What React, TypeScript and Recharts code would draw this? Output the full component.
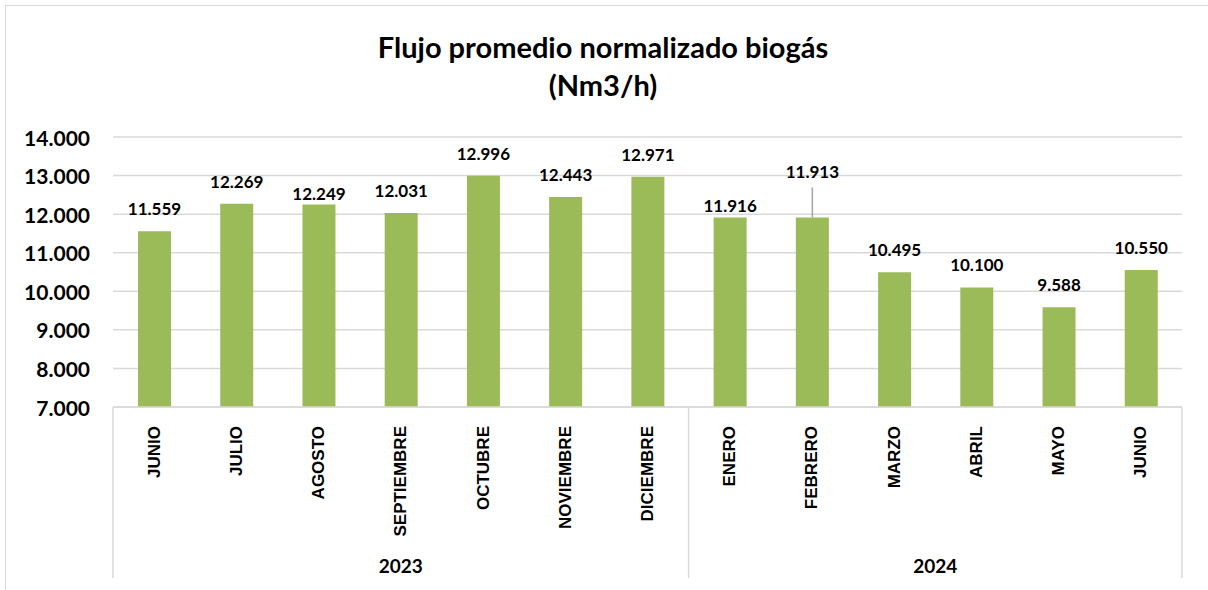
import React from 'react';
import { BarChart, Bar, XAxis, YAxis, CartesianGrid, LabelList } from 'recharts';

const months = ['JUNIO', 'JULIO', 'AGOSTO', 'SEPTIEMBRE', 'OCTUBRE', 'NOVIEMBRE', 'DICIEMBRE', 'ENERO', 'FEBRERO', 'MARZO', 'ABRIL', 'MAYO', 'JUNIO'];
const years = ['2023', '2023', '2023', '2023', '2023', '2023', '2023', '2024', '2024', '2024', '2024', '2024', '2024'];
const flow = [11559, 12269, 12249, 12031, 12996, 12443, 12971, 11916, 11913, 10495, 10100, 9588, 10550];
const yTicks = [7000, 8000, 9000, 10000, 11000, 12000, 13000, 14000];
const titleLines = ['Flujo promedio normalizado biogás', '(Nm3/h)'];

const data = months.map((m, i) => ({ month: m, year: years[i], flow: flow[i] }));

// layout / style
const W = 1208;
const H = 590;
const M_TOP = 137;
const M_RIGHT = 26;
const M_BOTTOM = 183;
const Y_W = 113;
const PLOT_W = W - Y_W - M_RIGHT;
const PLOT_BOTTOM = H - M_BOTTOM;
const BAND = PLOT_W / months.length;
const GRID = '#d9d9d9';
const BAR = '#9bbb59';
const FONT = 'Lato, "Open Sans", sans-serif';
const LABEL_GAP_DEFAULT = 16;
const LABEL_GAP: Record<number, number> = { 2: 5, 7: 5 };
const LEADER: Record<number, number> = { 8: 39 };

const fmt = (v: number) => {
  const s = Math.round(v).toString();
  return s.replace(/\B(?=(\d{3})+(?!\d))/g, '.');
};

const YTick = (props: any) => {
  const { x, y, payload } = props;
  return (
    <text x={x} y={y} textAnchor="end" dominantBaseline="central" fontFamily={FONT} fontWeight={700} fontSize={21} fill="#000">
      {fmt(payload.value)}
    </text>
  );
};

const MonthTick = (props: any) => {
  const { x, payload } = props;
  const i = payload.index as number;
  const top = PLOT_BOTTOM + 19;
  const els: React.ReactNode[] = [];
  els.push(
    <text key="m" x={x} y={top} transform={`rotate(-90 ${x} ${top})`} textAnchor="end" dominantBaseline="central"
      fontFamily='"Liberation Sans", Arial, sans-serif' fontWeight={700} fontSize={17} fill="#000">
      {months[i]}
    </text>
  );
  if (i === 0 || years[i] !== years[i - 1]) {
    let count = 0;
    for (let j = i; j < years.length && years[j] === years[i]; j++) count++;
    const cx = x + ((count - 1) / 2) * BAND;
    els.push(<line key="l" x1={x - BAND / 2} x2={x - BAND / 2} y1={PLOT_BOTTOM} y2={PLOT_BOTTOM + 171} stroke={GRID} strokeWidth={1.5} />);
    els.push(
      <text key="y" x={cx} y={PLOT_BOTTOM + 158} textAnchor="middle" dominantBaseline="central" fontFamily={FONT} fontWeight={700} fontSize={19} fill="#000">
        {years[i]}
      </text>
    );
  }
  if (i === months.length - 1) {
    els.push(<line key="r" x1={x + BAND / 2} x2={x + BAND / 2} y1={PLOT_BOTTOM} y2={PLOT_BOTTOM + 171} stroke={GRID} strokeWidth={1.5} />);
  }
  return <g>{els}</g>;
};

const ValueLabel = (props: any) => {
  const { x, y, width, value, index } = props;
  const cx = x + width / 2;
  if (LEADER[index] !== undefined) {
    const base = y - LEADER[index];
    return (
      <g>
        <line x1={cx} x2={cx} y1={base + 9} y2={y} stroke="#a6a6a6" strokeWidth={1.5} />
        <text x={cx} y={base} textAnchor="middle" fontFamily={FONT} fontWeight={700} fontSize={17} fill="#000">{fmt(value)}</text>
      </g>
    );
  }
  const gap = LABEL_GAP[index] !== undefined ? LABEL_GAP[index] : LABEL_GAP_DEFAULT;
  return (
    <text x={cx} y={y - gap} textAnchor="middle" fontFamily={FONT} fontWeight={700} fontSize={17} fill="#000">{fmt(value)}</text>
  );
};

export default function App() {
  return (
    <div style={{ position: 'absolute', left: 0, top: 0, width: W, height: H, overflow: 'hidden', background: '#fff' }}>
      <div style={{ position: 'absolute', left: 5, top: 5, width: W + 20, height: H + 20, border: `1.5px solid ${GRID}`, boxSizing: 'border-box' }} />
      <svg width={W} height={120} style={{ position: 'absolute', left: 0, top: 0 }}>
        <text x={603} y={58} textAnchor="middle" fontFamily={FONT} fontWeight={700} fontSize={29} fill="#000">{titleLines[0]}</text>
        <text x={603} y={96} textAnchor="middle" fontFamily={FONT} fontWeight={700} fontSize={29} fill="#000">{titleLines[1]}</text>
      </svg>
      <div style={{ position: 'absolute', left: 0, top: 0 }}>
        <BarChart width={W} height={H} data={data} margin={{ top: M_TOP, right: M_RIGHT, bottom: 0, left: 0 }}>
          <CartesianGrid vertical={false} stroke={GRID} strokeWidth={1.5} />
          <XAxis dataKey="month" interval={0} height={M_BOTTOM} tickLine={false} axisLine={{ stroke: GRID, strokeWidth: 1.5 }} tick={<MonthTick />} />
          <YAxis width={Y_W} domain={[7000, 14000]} ticks={yTicks} tickLine={false} axisLine={false} tickSize={0} tickMargin={23} tick={<YTick />} />
          <Bar dataKey="flow" fill={BAR} barSize={33} isAnimationActive={false}>
            <LabelList dataKey="flow" content={<ValueLabel />} />
          </Bar>
        </BarChart>
      </div>
    </div>
  );
}
